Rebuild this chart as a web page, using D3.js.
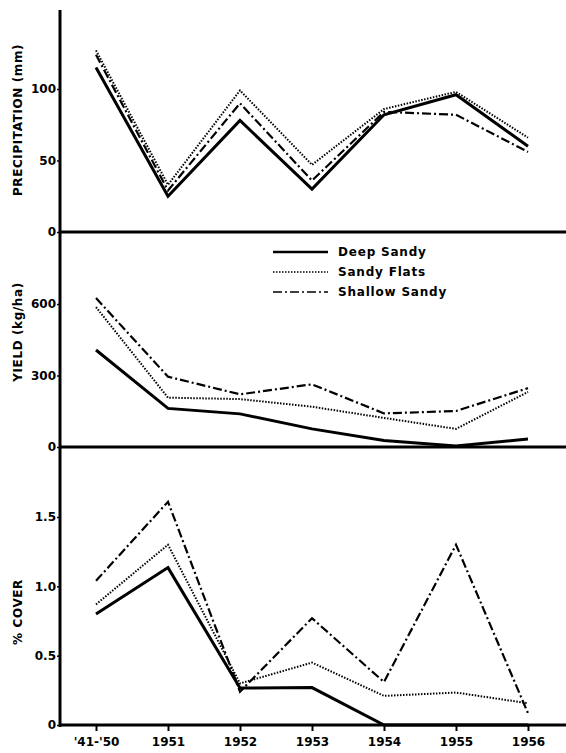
<!DOCTYPE html>
<html>
<head>
<meta charset="utf-8">
<script src="https://cdn.jsdelivr.net/npm/d3@7"></script>
<style>
  body { margin: 0; background: #fff; }
  svg { font-family: "DejaVu Sans", sans-serif; font-weight: bold; }
</style>
</head>
<body>
<div id="vis"></div>
<script>
const YEARS = ["'41-'50", "1951", "1952", "1953", "1954", "1955", "1956"];
const SERIES = ["Deep Sandy", "Sandy Flats", "Shallow Sandy"];

// precipitation (mm)
const PRECIP_DEEP = [115, 25, 78, 30, 82, 96, 60];
const PRECIP_FLATS = [127, 33, 99, 47, 86, 98, 66];
const PRECIP_SHALLOW = [124, 29, 90, 36, 84, 82, 56];

// yield (kg/ha)
const YIELD_DEEP = [407, 162, 139, 76, 27, 4, 34];
const YIELD_FLATS = [587, 207, 201, 169, 122, 76, 231];
const YIELD_SHALLOW = [625, 295, 221, 263, 141, 151, 247];

// % cover
const COVER_DEEP = [0.8, 1.135, 0.266, 0.27, 0, 0, 0];
const COVER_FLATS = [0.87, 1.3, 0.3, 0.45, 0.21, 0.234, 0.157];
const COVER_SHALLOW = [1.04, 1.61, 0.24, 0.77, 0.31, 1.3, 0.085];

const PRECIP_TICKS = [0, 50, 100];
const YIELD_TICKS = [0, 300, 600];
const COVER_TICKS = [0, 0.5, 1.0, 1.5];

const FRAME_WIDTH = 566;
const FRAME_HEIGHT = 753;
const AXIS_X = 60;

const STYLES = [
  { width: 3, dash: null },
  { width: 2, dash: "1.5,1.5" },
  { width: 2.2, dash: "9,3,2,3" },
];

const SVG = d3
  .select("#vis")
  .append("svg")
  .attr("width", FRAME_WIDTH)
  .attr("height", FRAME_HEIGHT);

const X_SCALE = d3.scalePoint().domain(YEARS).range([96, 528]);

const PANELS = [
  {
    title: "PRECIPITATION (mm)",
    data: [PRECIP_DEEP, PRECIP_FLATS, PRECIP_SHALLOW],
    ticks: PRECIP_TICKS,
    fmt: (d) => d,
    y: d3.scaleLinear().domain([0, 100]).range([232, 89]),
    labelY: 120,
  },
  {
    title: "YIELD (kg/ha)",
    data: [YIELD_DEEP, YIELD_FLATS, YIELD_SHALLOW],
    ticks: YIELD_TICKS,
    fmt: (d) => d,
    y: d3.scaleLinear().domain([0, 600]).range([447, 304]),
    labelY: 332,
  },
  {
    title: "% COVER",
    data: [COVER_DEEP, COVER_FLATS, COVER_SHALLOW],
    ticks: COVER_TICKS,
    fmt: (d) => (d === 0 ? "0" : d3.format(".1f")(d)),
    y: d3.scaleLinear().domain([0, 1.5]).range([725, 517]),
    labelY: 612,
  },
];

PANELS.forEach((p) => {
  const line = d3
    .line()
    .defined((d) => d != null)
    .x((d, i) => X_SCALE(YEARS[i]))
    .y((d) => p.y(d));

  p.data.forEach((vals, i) => {
    SVG.append("path")
      .datum(vals)
      .attr("d", line)
      .attr("fill", "none")
      .attr("stroke", "#000")
      .attr("stroke-width", STYLES[i].width)
      .attr("stroke-dasharray", STYLES[i].dash)
      .attr("stroke-linejoin", "miter");
  });

  // baseline
  SVG.append("line")
    .attr("x1", AXIS_X)
    .attr("x2", FRAME_WIDTH)
    .attr("y1", p.y(0))
    .attr("y2", p.y(0))
    .attr("stroke", "#000")
    .attr("stroke-width", 3);

  const axis = SVG.append("g")
    .attr("transform", `translate(${AXIS_X},0)`)
    .call(d3.axisLeft(p.y).tickValues(p.ticks).tickFormat(p.fmt).tickSize(3).tickPadding(1));
  axis.select(".domain").remove();
  axis.selectAll("line").attr("stroke-width", 1.5);
  axis.selectAll("text").attr("font-size", 12).attr("font-weight", "bold").attr("font-family", "DejaVu Sans");

  SVG.append("text")
    .attr("transform", `translate(22,${p.labelY}) rotate(-90)`)
    .attr("text-anchor", "middle")
    .attr("font-size", 12)
    .attr("letter-spacing", 0.6)
    .text(p.title);
});

// vertical axis
SVG.append("line")
  .attr("x1", AXIS_X)
  .attr("x2", AXIS_X)
  .attr("y1", 10)
  .attr("y2", 727)
  .attr("stroke", "#000")
  .attr("stroke-width", 3);

// x axis
const XAXIS = SVG.append("g")
  .attr("transform", "translate(0,725)")
  .call(d3.axisBottom(X_SCALE).tickSize(6).tickPadding(6));
XAXIS.select(".domain").remove();
XAXIS.selectAll("line").attr("stroke-width", 2);
XAXIS.selectAll("text").attr("font-size", 12).attr("font-weight", "bold").attr("font-family", "DejaVu Sans");

// legend
const LEGEND = SVG.append("g").attr("transform", "translate(273,252)");
SERIES.forEach((s, i) => {
  const g = LEGEND.append("g").attr("transform", `translate(0,${i * 20})`);
  g.append("line")
    .attr("x1", 0)
    .attr("x2", 55)
    .attr("stroke", "#000")
    .attr("stroke-width", STYLES[i].width - 0.5)
    .attr("stroke-dasharray", STYLES[i].dash);
  g.append("text")
    .attr("x", 65)
    .attr("dy", "0.35em")
    .attr("font-size", 12)
    .attr("letter-spacing", 0.8)
    .text(s);
});
</script>
</body>
</html>
